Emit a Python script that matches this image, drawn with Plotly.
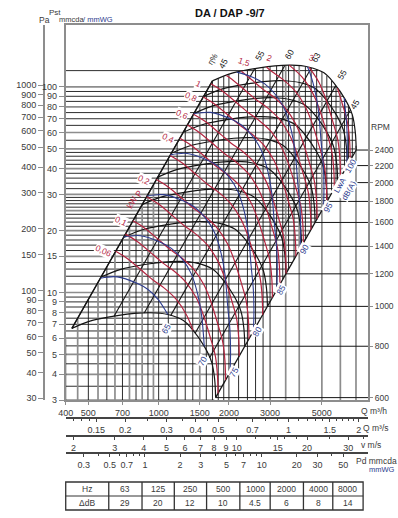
import numpy as np
import plotly.graph_objects as go

# ---------------- values ----------------
RPM_TOP = 2400
RPM_MIN = 600
# fan curve at top speed: flow (m3/h), static pressure (mmWG), power (kW), sound LwA (dB)
base_q = [1700, 2082, 2701, 3151, 3700, 4375, 5105, 5624, 6310, 6751, 6950, 7015]
base_p = [107, 117, 123.8, 126.6, 127.5, 125, 117, 104.6, 86.5, 73.1, 60.4, 49.3]
base_kw = [1.05, 1.36, 1.85, 2.2, 2.55, 2.98, 3.5, 3.85, 4.35, 4.6, 4.72, 4.77]
base_lwa = [89, 89.8, 91.2, 92.2, 93.5, 95.1, 97, 98.3, 100.2, 101.2, 101.7, 102]

rpm_curves = [600, 800, 1000, 1200, 1400, 1600, 1800, 2000, 2200, 2400]
rpm_ticks = [600, 800, 1000, 1200, 1400, 1600, 1800, 2000, 2200, 2400]

eff_q_top = [1700, 2576, 3470, 4503, 5730, 6610]
eff_labels = ["45", "55", "60", "63", "55", "45"]

kw_levels = [0.06, 0.08, 0.1, 0.15, 0.2, 0.3, 0.4, 0.5, 0.6, 0.8, 1, 1.25, 1.5, 2, 2.5, 3, 4]
kw_text = {0.06: "0,06", 0.1: "0,1", 0.2: "0,2", 0.4: "0,4", 0.6: "0,6", 0.8: "0,8",
           1: "1", 1.5: "1,5", 2: "2", 3: "3"}
db_levels = [65, 70, 75, 80, 85, 90, 95, 100]

grid_p = [3, 3.5, 4, 4.5, 5, 5.5, 6, 6.5, 7, 7.5, 8, 8.5, 9, 9.5, 10, 11, 12, 13, 14, 15,
          16, 17, 18, 19, 20, 21, 22, 23, 24, 25, 26, 27, 28, 29, 30, 32, 34, 36, 38, 40,
          42, 44, 46, 48, 50, 55, 60, 65, 70, 75, 80, 85, 90, 95, 100, 120]
grid_p_grey = [3, 4, 5, 6, 8, 10, 15, 20, 25, 30, 40, 50, 60, 80, 100]
grid_q = [400, 450, 500, 550, 600, 650, 700, 750, 800, 850, 900, 950, 1000, 1100, 1200,
          1300, 1400, 1500, 1600, 1700, 1800, 1900, 2000, 2200, 2400, 2600, 2800, 3000,
          3200, 3400, 3500, 3600, 3800, 4000, 4250, 4500, 4750, 5000, 5250, 5500, 5750,
          6000, 6250, 6500, 6750, 7000]
grid_q_grey = [450, 550, 650, 750, 850, 950, 1500, 2500, 3500, 4000, 5000, 6000, 7000]
grid_q_full = [3500, 4000, 5000, 6000, 7000]   # lines above 3000 that reach the bottom axis

mm_ticks = [100, 90, 80, 70, 60, 50, 40, 30, 20, 15, 10, 9, 8, 7, 6, 5, 4, 3]
pa_ticks = [1000, 900, 800, 700, 600, 500, 400, 300, 200, 150, 100, 90, 80, 70, 60, 50, 40, 30]
qh_ticks = [400, 500, 700, 1000, 1500, 2000, 3000, 5000]
qs_ticks = [0.15, 0.2, 0.3, 0.4, 0.5, 0.7, 1, 1.5, 2]
qs_minor = [0.12, 0.13, 0.14, 0.25, 0.35, 0.45, 0.6, 0.8, 0.9, 1.1, 1.2, 1.3, 1.4, 1.6, 1.7, 1.8, 1.9]
v_ticks = [2, 3, 4, 5, 6, 7, 8, 9, 10, 15, 20, 30]
v_minor = [12, 14, 16, 18, 25, 35]
pd_ticks = [0.3, 0.5, 0.7, 1, 2, 3, 5, 7, 10, 20, 30, 50]
pd_minor = [0.4, 0.6, 0.8, 0.9, 4, 6, 8, 9, 40]
octave_hz = ["63", "125", "250", "500", "1000", "2000", "4000", "8000"]
octave_ddb = ["29", "20", "12", "10", "4.5", "6", "8", "14"]

Q_RANGE = [400, 7880]     # m3/h
P_RANGE = [3, 200]        # mmWG
PA_PER_MM = 9.81
DUCT_AREA = 0.06          # m2 (outlet velocity scale)
RHO = 1.2

# ---------------- styling / layout ----------------
FONT = "Liberation Sans, Arial, sans-serif"
RED = "#b3243f"
BLUE = "#2d3c8e"
INK = "#151515"
GREY = "#8d8d8d"
TXT = "#3a3a3a"

W, H = 398, 518
M_L, M_R, M_T, M_B = 0, 30, 25, 5
PW, PH = W - M_L - M_R, H - M_T - M_B

# label offsets (pixels) for the efficiency labels at the top of their lines
eff_label_shift = [(11, -18), (5, -13), (5, -11), (5, -11), (6, -11), (5, -6)]


def fx(px):
    return (px - M_L) / PW


def fy(py):
    return (H - M_B - py) / PH


bq = np.array(base_q, float)
bp = np.array(base_p, float)
bkw = np.array(base_kw, float)
blw = np.array(base_lwa, float)
k_peak = int(np.argmax(bp))


def p_top(q):
    if q <= bq[0]:
        return bp[0] * (q / bq[0]) ** 2
    if q > bq[-1]:
        return None
    return float(np.exp(np.interp(np.log(q), np.log(bq), np.log(bp))))


def p_right_diag(q):
    return bp[-1] * (q / bq[-1]) ** 2


def q_right(p):
    if p <= bp[-1]:
        return bq[-1] * np.sqrt(p / bp[-1])
    dq = np.log(bq[k_peak:])[::-1]
    dp = np.log(bp[k_peak:])[::-1]
    return float(np.exp(np.interp(np.log(p), dp, dq)))


def seg_point(i, j, t, n):
    lq = np.log(bq[i]) + t * (np.log(bq[j]) - np.log(bq[i]))
    lp = np.log(bp[i]) + t * (np.log(bp[j]) - np.log(bp[i]))
    r = n / RPM_TOP
    return float(np.exp(lq) * r), float(np.exp(lp) * r * r)


def iso_line(ns):
    qs, ps = [], []
    ln = np.log(ns)
    for i in range(len(ns)):
        if i > 0:
            for b in (RPM_TOP, RPM_MIN):
                lb = np.log(b)
                if (ln[i - 1] - lb) * (ln[i] - lb) < 0:
                    t = (lb - ln[i - 1]) / (ln[i] - ln[i - 1])
                    q, p = seg_point(i - 1, i, t, b)
                    qs.append(q)
                    ps.append(p)
        if RPM_MIN <= ns[i] <= RPM_TOP:
            r = ns[i] / RPM_TOP
            qs.append(bq[i] * r)
            ps.append(bp[i] * r * r)
    return qs, ps


fig = go.Figure()


def add_line(xs, ys, color, width, shape="linear", xaxis="x", yaxis="y"):
    fig.add_trace(go.Scatter(x=xs, y=ys, mode="lines", line=dict(color=color, width=width, shape=shape),
                             hoverinfo="skip", showlegend=False, xaxis=xaxis, yaxis=yaxis))


# grid: horizontal lines run from left axis to right envelope edge
for grey in (True, False):
    xs, ys = [], []
    for p in grid_p:
        if (p in grid_p_grey) != grey:
            continue
        xs += [Q_RANGE[0], q_right(p), None]
        ys += [p, p, None]
    add_line(xs, ys, GREY if grey else INK, 1.7 if grey else 0.9)

# grid: vertical lines run from bottom (or right envelope edge) to upper envelope edge
for grey in (True, False):
    xs, ys = [], []
    for q in grid_q:
        if (q in grid_q_grey) != grey:
            continue
        top = p_top(q)
        if top is None:
            continue
        bottom = P_RANGE[0]
        if q > 3000 and q not in grid_q_full:
            bottom = p_right_diag(q)
        xs += [q, q, None]
        ys += [bottom, top, None]
    add_line(xs, ys, GREY if grey else INK, 1.7 if grey else 0.9)

# RPM reference lines from right envelope edge to the RPM scale
xs, ys = [], []
for n in rpm_ticks:
    r = n / RPM_TOP
    xs += [bq[-1] * r, Q_RANGE[1], None]
    ys += [bp[-1] * r * r, bp[-1] * r * r, None]
add_line(xs, ys, INK, 1.0)

# efficiency lines (constant flow coefficient)
for qe in eff_q_top:
    pe = p_top(qe)
    r = RPM_MIN / RPM_TOP
    add_line([qe * r, qe], [pe * r * r, pe], INK, 1.1)

# speed curves
for n in rpm_curves:
    r = n / RPM_TOP
    add_line(list(bq * r), list(bp * r * r), INK, 1.2, shape="spline")

# envelope diagonals
r = RPM_MIN / RPM_TOP
add_line([bq[0] * r, bq[0]], [bp[0] * r * r, bp[0]], INK, 1.3)
add_line([bq[-1] * r, bq[-1]], [bp[-1] * r * r, bp[-1]], INK, 1.3)

ann = []


def text_px(s, px, py, size=9, color=TXT, angle=0, xanchor="center", bold=False):
    ann.append(dict(text=("<b>%s</b>" % s) if bold else s, x=fx(px), y=fy(py), xref="paper", yref="paper",
                    showarrow=False, textangle=angle, xanchor=xanchor, yanchor="middle",
                    font=dict(size=size, color=color, family=FONT)))


def text_data(s, q, p, dx=0, dy=0, size=9, color=TXT, angle=0, bg=None):
    d = dict(text=s, x=float(np.log10(q)), y=float(np.log10(p)), xref="x", yref="y", showarrow=False,
             xshift=dx, yshift=-dy, textangle=angle, font=dict(size=size, color=color, family=FONT),
             borderpad=0)
    if bg:
        d["bgcolor"] = bg
    ann.append(d)


# power lines
for P in kw_levels:
    ns = RPM_TOP * (P / bkw) ** (1.0 / 3.0)
    qs, ps = iso_line(ns)
    if len(qs) < 2:
        continue
    add_line(qs, ps, RED, 1.2, shape="spline")
    if P in kw_text:
        if ns[0] <= RPM_TOP:
            text_data(kw_text[P], qs[0], ps[0], dx=-12, dy=0, size=8.5, color=RED, angle=25, bg="white")
        else:
            text_data(kw_text[P], qs[0], ps[0], dx=3, dy=-9, size=8.5, color=RED, angle=20)

# sound lines
for L in db_levels:
    ns = RPM_TOP * 10 ** ((L - blw) / 50.0)
    qs, ps = iso_line(ns)
    if len(qs) < 2:
        continue
    add_line(qs, ps, BLUE, 1.1, shape="spline")
    if ns[-1] >= RPM_MIN:
        text_data(str(L), qs[-1], ps[-1], dx=4, dy=0, size=8.5, color=BLUE, angle=-60, bg="white")
    else:
        text_data(str(L), qs[-1], ps[-1], dx=-2, dy=14, size=8.5, color=BLUE, angle=-60, bg="white")

# efficiency labels
for qe, lab, (sx, sy) in zip(eff_q_top, eff_labels, eff_label_shift):
    text_data(lab, qe, p_top(qe), dx=sx, dy=sy, size=8.5, color=INK, angle=-60)
text_data("η%", bq[0], bp[0], dx=1, dy=-22, size=8, color=INK, angle=-60)

# P kW and LwA labels
n_pk = 1250
text_data("P", bq[0] * n_pk / RPM_TOP, bp[0] * (n_pk / RPM_TOP) ** 2, dx=-7, dy=-4, size=8.5, color=RED, angle=-60)
text_data("kW", bq[0] * n_pk / RPM_TOP, bp[0] * (n_pk / RPM_TOP) ** 2, dx=-14, dy=5, size=8.5, color=RED, angle=-60)
n_lw = 2000
text_data("LwA<br>dB(A)", bq[-1] * n_lw / RPM_TOP, bp[-1] * (n_lw / RPM_TOP) ** 2, dx=7, dy=5, size=8,
          color=BLUE, angle=-60, bg="white")

# dummy traces so that the extra axes are drawn
for xa, ya, xv, yv in [("x", "y2", Q_RANGE[0], 100), ("x", "y3", Q_RANGE[0], 1000),
                       ("x2", "y", 1, 10), ("x3", "y", 5, 10), ("x4", "y", 1, 10)]:
    fig.add_trace(go.Scatter(x=[xv], y=[yv], mode="markers", marker=dict(opacity=0), hoverinfo="skip",
                             showlegend=False, xaxis=xa, yaxis=ya))

x_dom = [fx(59), 1.0]
y_dom = [fy(400), 1.0]
lq0, lq1 = np.log10(Q_RANGE[0]), np.log10(Q_RANGE[1])
tick_font = dict(size=9, color=TXT, family=FONT)


def v_of(q):
    return q / 3600.0 / DUCT_AREA


def pd_of(q):
    return RHO * v_of(q) ** 2 / 2 / 9.81


rpm_lo = np.log10(RPM_TOP) + (np.log10(P_RANGE[0]) - np.log10(bp[-1])) / 2
rpm_hi = np.log10(RPM_TOP) + (np.log10(P_RANGE[1]) - np.log10(bp[-1])) / 2

fig.update_layout(
    width=W, height=H, margin=dict(l=M_L, r=M_R, t=M_T, b=M_B),
    paper_bgcolor="white", plot_bgcolor="white", showlegend=False,
    font=dict(family=FONT, size=9, color=TXT),
    xaxis=dict(type="log", domain=x_dom, range=[lq0, lq1], tickvals=qh_ticks, ticktext=[str(v) for v in qh_ticks],
               ticks="outside", ticklen=3, tickcolor=GREY, showgrid=False, zeroline=False, showline=True,
               linecolor=GREY, linewidth=2, mirror=True, tickfont=tick_font, anchor="y"),
    yaxis=dict(type="log", domain=y_dom, range=[np.log10(P_RANGE[0]), np.log10(P_RANGE[1])], tickvals=mm_ticks,
               ticktext=[str(v) for v in mm_ticks], ticks="outside", ticklen=5, tickcolor=GREY, showgrid=False,
               zeroline=False, showline=True, linecolor=GREY, linewidth=2, mirror=True, tickfont=tick_font,
               anchor="x"),
    yaxis2=dict(type="log", overlaying="y", anchor="free", position=fx(37), side="left",
                range=[np.log10(P_RANGE[0] * PA_PER_MM), np.log10(P_RANGE[1] * PA_PER_MM)], tickvals=pa_ticks,
                ticktext=[str(v) for v in pa_ticks], ticks="outside", ticklen=5, tickcolor=GREY, showgrid=False,
                zeroline=False, showline=True, linecolor=GREY, linewidth=2, tickfont=tick_font),
    yaxis3=dict(type="log", overlaying="y", anchor="x", side="right", range=[rpm_lo, rpm_hi], tickvals=rpm_ticks,
                ticktext=[str(v) for v in rpm_ticks], ticks="outside", ticklen=4, tickcolor=GREY, showgrid=False,
                zeroline=False, showline=False, tickfont=dict(size=8.5, color=TXT, family=FONT)),
    xaxis2=dict(type="log", overlaying="x", anchor="free", position=fy(418), side="bottom",
                range=[np.log10(Q_RANGE[0] / 3600), np.log10(Q_RANGE[1] / 3600)], tickvals=qs_ticks,
                ticktext=[str(v) for v in qs_ticks], ticks="outside", ticklen=3, tickcolor="#444",
                minor=dict(tickvals=qs_minor, ticks="outside", ticklen=2, tickcolor="#444"),
                showgrid=False, zeroline=False, showline=True, linecolor="#444", linewidth=1.5, tickfont=tick_font),
    xaxis3=dict(type="log", overlaying="x", anchor="free", position=fy(436), side="bottom",
                range=[np.log10(v_of(Q_RANGE[0])), np.log10(v_of(Q_RANGE[1]))], tickvals=v_ticks,
                ticktext=[str(v) for v in v_ticks], ticks="outside", ticklen=3, tickcolor="#444",
                minor=dict(tickvals=v_minor, ticks="outside", ticklen=2, tickcolor="#444"),
                showgrid=False, zeroline=False, showline=True, linecolor="#444", linewidth=1.5, tickfont=tick_font),
    xaxis4=dict(type="log", overlaying="x", anchor="free", position=fy(453), side="bottom",
                range=[np.log10(pd_of(Q_RANGE[0])), np.log10(pd_of(Q_RANGE[1]))], tickvals=pd_ticks,
                ticktext=[str(v) for v in pd_ticks], ticks="outside", ticklen=3, tickcolor="#444",
                minor=dict(tickvals=pd_minor, ticks="outside", ticklen=2, tickcolor="#444"),
                showgrid=False, zeroline=False, showline=True, linecolor="#444", linewidth=1.5, tickfont=tick_font),
)

# headings and unit labels
text_px("DA / DAP -9/7", 227, 13, size=11, color="#111", bold=True)
text_px("Pst", 40, 12, size=8, xanchor="left")
text_px("Pa", 30, 20, size=8.5, xanchor="left")
text_px("mmcda", 50, 20, size=7.5, xanchor="left")
text_px("/ mmWG", 75, 20, size=7.5, color=BLUE, xanchor="left")
text_px("RPM", 381, 127, size=8.5)
text_px("Q m³/h", 374, 411, size=8.5)
text_px("Q m³/s", 376, 428, size=8.5)
text_px("v m/s", 371, 445, size=8.5)
text_px("Pd mmcda", 377, 461, size=8.5)
text_px("mmWG", 382, 469, size=7.5, color=BLUE)

# octave correction table
col_edges = [59, 103, 137, 170, 203, 237, 268, 302, 332, 363]
row_edges = [482, 496, 510]
shapes = [dict(type="rect", xref="paper", yref="paper", x0=fx(col_edges[0]), x1=fx(col_edges[-1]),
               y0=fy(row_edges[0]), y1=fy(row_edges[-1]), line=dict(color="#333", width=1.3))]
for cx in col_edges[1:-1]:
    shapes.append(dict(type="line", xref="paper", yref="paper", x0=fx(cx), x1=fx(cx), y0=fy(row_edges[0]),
                       y1=fy(row_edges[-1]), line=dict(color="#333", width=1.3)))
shapes.append(dict(type="line", xref="paper", yref="paper", x0=fx(col_edges[0]), x1=fx(col_edges[-1]),
                   y0=fy(row_edges[1]), y1=fy(row_edges[1]), line=dict(color="#333", width=1)))
row1 = ["Hz"] + octave_hz
row2 = ["ΔdB"] + octave_ddb
for c in range(len(row1)):
    cx = (col_edges[c] + col_edges[c + 1]) / 2
    text_px(row1[c], cx, (row_edges[0] + row_edges[1]) / 2, size=8.5)
    text_px(row2[c], cx, (row_edges[1] + row_edges[2]) / 2, size=8.5)

fig.update_layout(annotations=ann, shapes=shapes)
fig.write_html("out.html", config={"displayModeBar": False},
               post_script="document.body.style.margin='0px';document.body.style.overflow='hidden';")
